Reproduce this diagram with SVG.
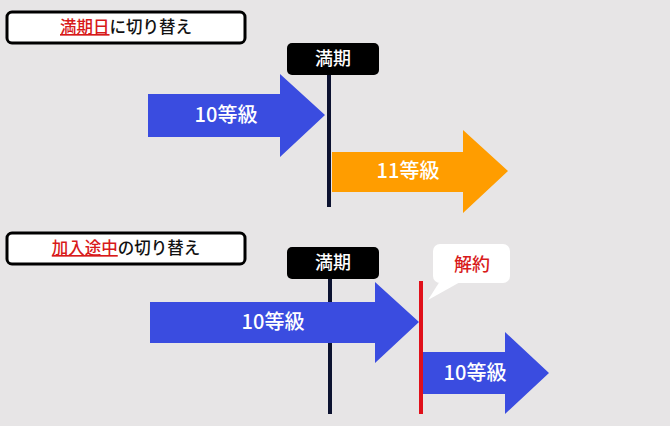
<svg xmlns="http://www.w3.org/2000/svg" width="670" height="426" viewBox="0 0 670 426">
<style>
text{font-family:"Noto Sans CJK JP","Noto Sans",sans-serif;}
.title{fill:#fff;stroke:#000;stroke-width:3;}
.tt{font-size:16.5px;font-weight:500;fill:#111;}
.red{fill:#d81a1a;text-decoration:underline;}
.tag{fill:#000;}
.tagt{font-size:18px;font-weight:500;fill:#fff;}
.lbl{font-size:20px;font-weight:500;fill:#fff;}
.blue{fill:#3a4ce0;}
.orange{fill:#ff9d00;}
.vline{stroke:#0c1230;stroke-width:4;}
.rline{stroke:#e0101a;stroke-width:4;}
</style>
<rect width="670" height="426" fill="#e7e5e6"/>

<g id="title1">
<rect class="title" x="7" y="12" width="238" height="31" rx="5"/>
<text class="tt" x="126" y="33" text-anchor="middle"><tspan class="red">満期日</tspan>に切り替え</text>
</g>

<g id="connectors">
<line class="vline" x1="329" y1="70" x2="329" y2="207"/>
<line class="vline" x1="330" y1="275" x2="330" y2="414"/>
</g>

<g id="arrow1">
<polygon class="blue" points="148,94 280,94 280,74 325,115 280,157 280,137 148,137"/>
<text class="lbl" x="226" y="122" text-anchor="middle">10等級</text>
</g>
<g id="arrow2">
<polygon class="orange" points="332,152 463,152 463,130 508,171 463,213 463,192 332,192"/>
<text class="lbl" x="408" y="178" text-anchor="middle">11等級</text>
</g>
<g id="tag1">
<rect class="tag" x="287" y="43" width="92" height="32" rx="5"/>
<text class="tagt" x="333" y="65" text-anchor="middle">満期</text>
</g>

<g id="title2">
<rect class="title" x="7" y="233" width="238" height="31" rx="5"/>
<text class="tt" x="126" y="254" text-anchor="middle"><tspan class="red">加入途中</tspan>の切り替え</text>
</g>

<g id="tag2">
<rect class="tag" x="287" y="247" width="92" height="32" rx="5"/>
<text class="tagt" x="333" y="269" text-anchor="middle">満期</text>
</g>
<g id="arrow3">
<polygon class="blue" points="150,302 375,302 375,282 419,322 375,363 375,343 150,343"/>
<text class="lbl" x="273" y="329" text-anchor="middle">10等級</text>
</g>
<g id="cancelLine">
<line class="rline" x1="421" y1="281" x2="421" y2="414"/>
</g>
<g id="arrow4">
<polygon class="blue" points="423,352 505,352 505,332 549,373 505,414 505,394 423,394"/>
<text class="lbl" x="475" y="380" text-anchor="middle">10等級</text>
</g>
<g id="callout">
<rect x="433" y="244" width="77" height="39" rx="7" fill="#fff"/>
<polygon points="440,281 462,281 428,300" fill="#fff"/>
<text x="472" y="271" text-anchor="middle" font-size="18" font-weight="500" fill="#d81a1a">解約</text>
</g>
</svg>
